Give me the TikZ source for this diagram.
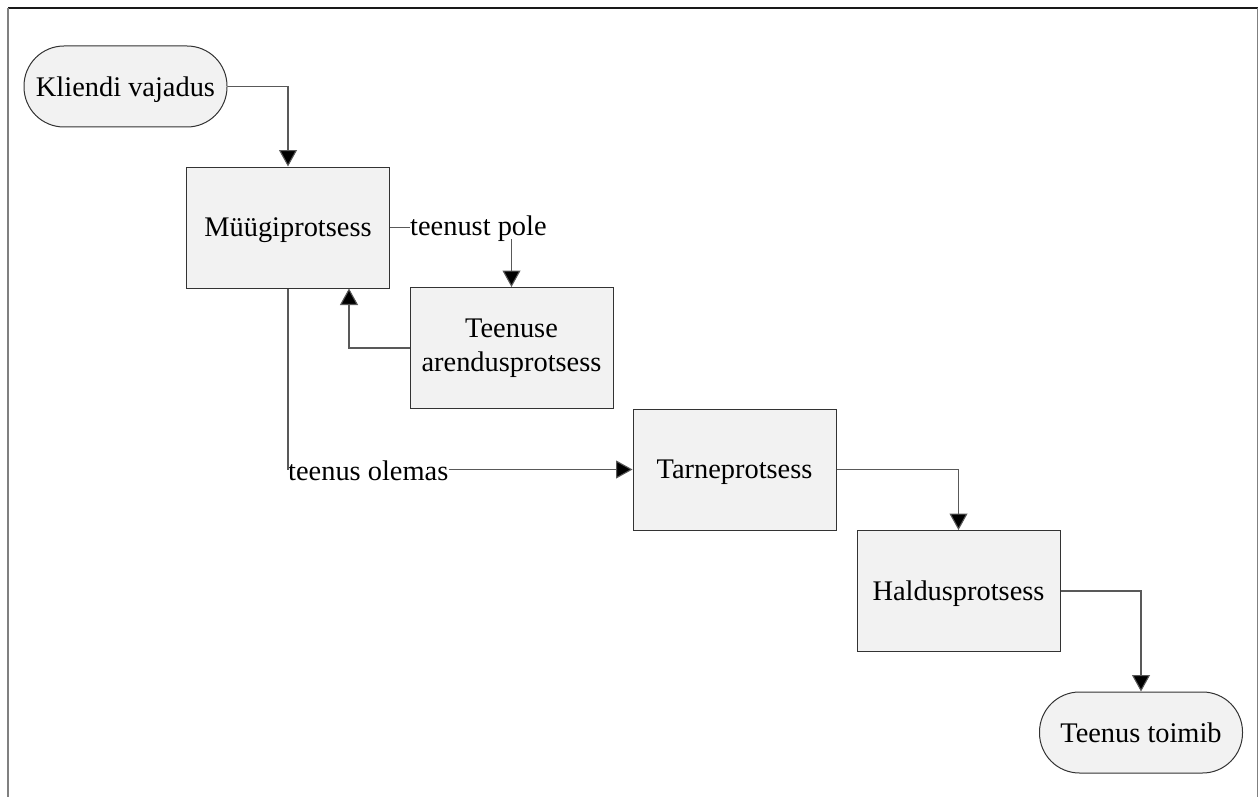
\documentclass[tikz,border=0pt]{standalone}
\usepackage{fontspec}
\setmainfont{Liberation Serif}
\usetikzlibrary{arrows.meta}
\begin{document}
\begin{tikzpicture}[x=1pt,y=-1pt,
  every node/.style={font=\fontsize{28.4}{34}\selectfont, text=black},
  procbox/.style={draw=black!80, line width=1pt, fill=black!5, minimum width=203pt, minimum height=121pt, align=center, inner sep=2pt},
  terminal/.style={draw=black!80, line width=1pt, fill=black!5, minimum width=203pt, minimum height=81pt, rounded corners=40pt, inner sep=2pt, text depth=0pt},
  flowlabel/.style={inner sep=0pt},
  link/.style={draw=black!65, line width=1.1pt},
  arrowlink/.style={link, -{Triangle[length=16.5pt,width=18pt,fill=black]}},
  frameline/.style={line width=1.6pt}]
\useasboundingbox (0,0) rectangle (1260,797);

% open frame: top, left and right sides
\draw[frameline, black!90] (8,8) -- (1257.5,8);
\draw[frameline, black!50] (8,8) -- (8,797);
\draw[frameline, black!50] (1257.5,8) -- (1257.5,797);

% process steps
\node[terminal] (kv) at (125.5,86.5) {Kliendi vajadus};
\node[procbox, text depth=0pt] (mueg) at (288,227.5) {Müügiprotsess};
\node[procbox] (teen) at (511.5,348) {Teenuse\\arendusprotsess};
\node[procbox, text depth=0pt] (tarne) at (734.5,469.5) {Tarneprotsess};
\node[procbox, text depth=0pt] (hald) at (958.5,591) {Haldusprotsess};
\node[terminal] (tt) at (1141,732.5) {Teenus toimib};

% branch labels
\node[flowlabel, anchor=west] (pole) at (410,229) {teenust pole};
\node[flowlabel, anchor=west] (olemas) at (288,471) {teenus olemas};

% connectors
\draw[arrowlink] (kv.east) -| (mueg.north);
\draw[link] (mueg.east) -- (mueg.east -| pole.west);
\draw[arrowlink] ([yshift=3pt]pole.south -| teen.north) -- (teen.north);
\draw[arrowlink] (teen.west) -| ([xshift=61pt]mueg.south);
\draw[link] (mueg.south) -- (mueg.south |- tarne.west);
\draw[arrowlink] (olemas.east |- tarne.west) -- (tarne.west);
\draw[arrowlink] (tarne.east) -| (hald.north);
\draw[arrowlink] (hald.east) -| (tt.north);
\end{tikzpicture}
\end{document}
